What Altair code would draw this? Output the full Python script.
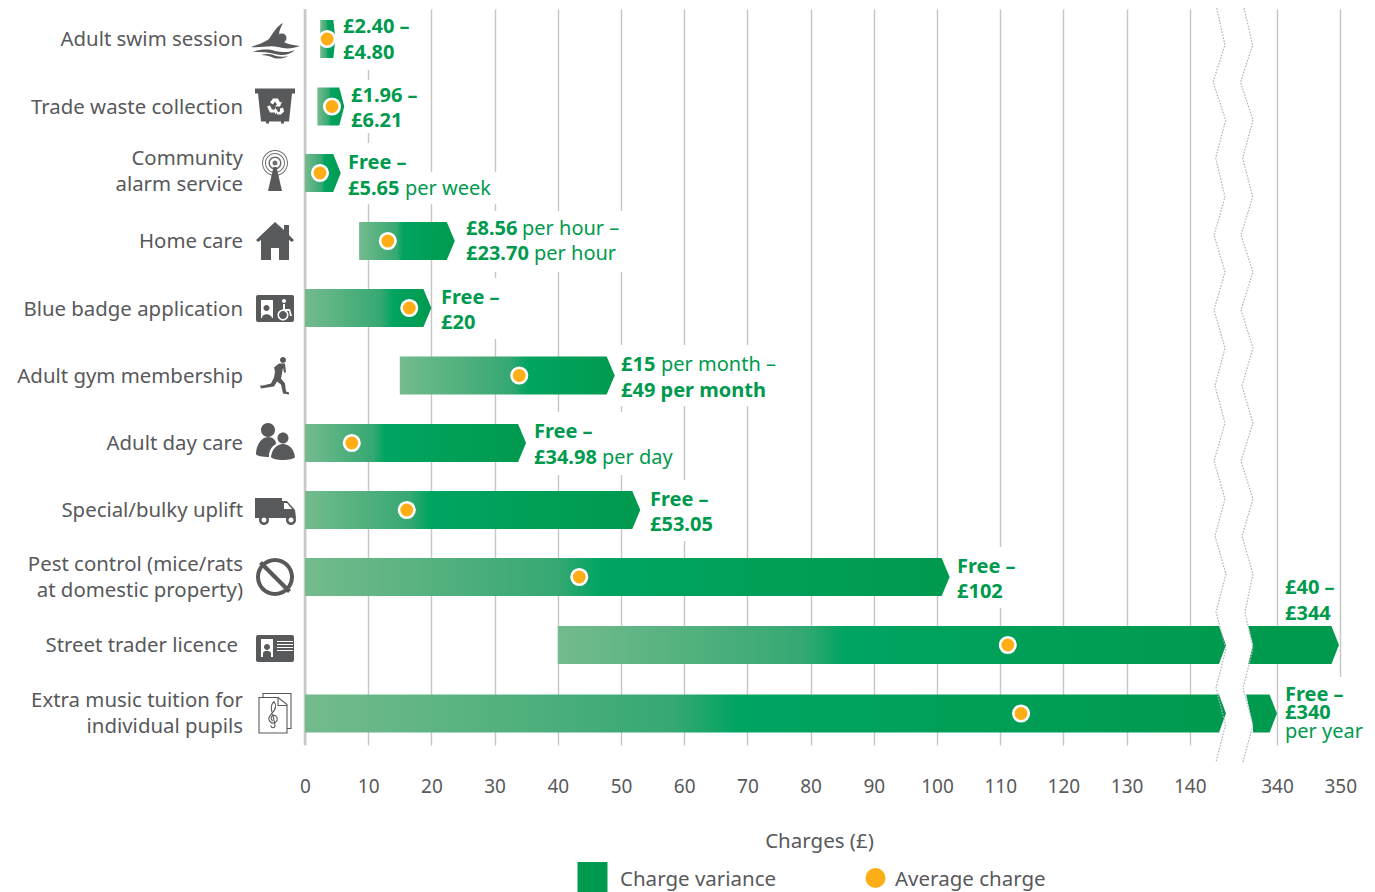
import altair as alt
import pandas as pd

# ---------- data ----------
SERVICES = ["Adult swim session", "Trade waste collection", "Community\nalarm service", "Home care",
            "Blue badge application", "Adult gym membership", "Adult day care", "Special/bulky uplift",
            "Pest control (mice/rats\nat domestic property)", "Street trader licence",
            "Extra music tuition for\nindividual pupils"]
LOW = [2.40, 1.96, 0, 8.56, 0, 15, 0, 0, 0, 40, 0]
HIGH = [4.80, 6.21, 5.65, 23.70, 20, 49, 34.98, 53.05, 102, 349.8, 340]
AVERAGE = [3.5, 4.27, 2.37, 13.1, 16.5, 33.9, 7.4, 16.1, 43.4, 111.2, 113.3]
TICKS = [0, 10, 20, 30, 40, 50, 60, 70, 80, 90, 100, 110, 120, 130, 140, 340, 350]

# value labels: (row, label start, parts)  part = (line centre, text, bold, px offset from label start)
VALUE_LABELS = [
    (0, 343, [(26, "£2.40 –", True, 0), (52, "£4.80", True, 0)]),
    (1, 351, [(95, "£1.96 –", True, 0), (120, "£6.21", True, 0)]),
    (2, 348, [(162, "Free –", True, 0), (188, "£5.65", True, 0), (188, "per week", False, 57)]),
    (3, 466, [(228, "£8.56", True, 0), (228, "per hour –", False, 56), (253, "£23.70", True, 0), (253, "per hour", False, 68)]),
    (4, 441, [(297, "Free –", True, 0), (322, "£20", True, 0)]),
    (5, 621, [(364, "£15", True, 0), (364, "per month –", False, 40), (390, "£49 per month", True, 0)]),
    (6, 534, [(431, "Free –", True, 0), (457, "£34.98", True, 0), (457, "per day", False, 68)]),
    (7, 650, [(499, "Free –", True, 0), (524, "£53.05", True, 0)]),
    (8, 957, [(566, "Free –", True, 0), (591, "£102", True, 0)]),
    (9, 1285, [(587, "£40 –", True, 0), (613, "£344", True, 0)]),
    (10, 1285, [(694, "Free –", True, 0), (712, "£340", True, 0), (731, "per year", False, 0)]),
]

# ---------- layout ----------
PX_UNIT = 6.32
X0, Y_TOP, Y_BOT = 305, 9, 745
ROW0, ROW_STEP = 39, 67.45
ROW_CENTRES = [39, 106.5, 173, 241, 308, 375.5, 443, 510, 577, 645, 713.5]
W, H = 1040, Y_BOT - Y_TOP
GREY = "#58595b"
GREEN = "#009a4e"
ORANGE = "#fdae17"
FONT = "Noto Sans"
FS = 20
FS_LABEL = 20.4
FS_LEGEND = 20.5
TXT_DY = 1


def fx(px):
    return (px - X0) / PX_UNIT


def fy(px):
    return (px - ROW0) / ROW_STEP


def pos(v):
    return v if v <= 150 else v - 186.2


XS = alt.Scale(domain=[0, W / PX_UNIT], nice=False, zero=False)
YS = alt.Scale(domain=[fy(Y_TOP), fy(Y_BOT)], nice=False, zero=False, reverse=True)
axis_vals = [pos(t) for t in TICKS]
AXIS = alt.Axis(values=axis_vals, domain=False, ticks=False, grid=True, gridColor="#c6c6c6",
                gridWidth=1.4, labelFont=FONT, labelFontSize=19, labelColor=GREY, labelPadding=32,
                labelExpr="datum.value > 150 ? format(datum.value + 186.2, 'd') : datum.label",
                labelOverlap=False, labelFlush=False, titleFont=FONT, titleFontSize=20.5,
                titleFontWeight="normal", titleColor=GREY, titleX=514, titleY=96,
                titleBaseline="middle", titleAnchor="middle", titleAlign="center")


def X(field="x"):
    return alt.X(field, type="quantitative", scale=XS, axis=AXIS, title="Charges (£)")


def Y(field="y"):
    return alt.Y(field, type="quantitative", scale=YS, axis=None)


layers = []

layers.append(
    alt.Chart(pd.DataFrame({"x": [0], "y": [fy(Y_TOP)], "y2": [fy(Y_BOT)]})).mark_rule(
        color="#c8c8c8", strokeWidth=2.6).encode(x=X(), y=Y(), y2="y2")
)

# white boxes behind the value labels
BOXES = [(338, 415, 8, 70), (347, 422, 80, 133), (345, 412, 143, 172), (345, 497, 172, 204), (458, 625, 211, 272),
         (433, 505, 278, 339), (615, 782, 345, 406), (527, 678, 412, 475), (643, 716, 480, 541), (950, 1020, 547, 608),
         (1280, 1365, 677, 746)]
layers.append(
    alt.Chart(pd.DataFrame([{"x": fx(a), "x2": fx(b), "y": fy(c), "y2": fy(d)} for a, b, c, d in BOXES]))
    .mark_rect(color="white").encode(x=X(), x2="x2", y=Y(), y2="y2")
)

# arrows
GRAD_MID = [0.5, 0.5, 0.55, 0.46, 0.7, 0.6, 0.36, 0.37, 0.46, 0.43, 0.47]
SHOULDER = [2, 5, 7.5, 8, 8, 8, 8, 8, 8, 7.5, 7.5]
HALF = 0.2817


def gradient(mid):
    return alt.Gradient(gradient="linear", x1=0, x2=1, y1=0, y2=0, stops=[
        alt.GradientStop(color="#74bb8d", offset=0),
        alt.GradientStop(color="#36a873", offset=mid * 0.85),
        alt.GradientStop(color="#00a461", offset=mid),
        alt.GradientStop(color=GREEN, offset=1),
    ])


def arrow(start, tip, shoulder_px, row, fill):
    sh = tip - shoulder_px / PX_UNIT
    d = pd.DataFrame({"x": [start, sh, tip], "y": [row - HALF, row - HALF, row], "y2": [row + HALF, row + HALF, row]})
    return alt.Chart(d).mark_area(color=fill, orient="vertical", line=False, opacity=1).encode(x=X(), y=Y(), y2="y2")


BREAK_TIP = fx(1226)
for i in range(11):
    lo, hi = pos(LOW[i]), pos(HIGH[i])
    rc = fy(ROW_CENTRES[i])
    if HIGH[i] > 150:
        layers.append(arrow(lo, BREAK_TIP, 7, rc, gradient(GRAD_MID[i])))
        layers.append(arrow(fx(1246 if i == 10 else 1248), hi, SHOULDER[i], rc, GREEN))
    else:
        layers.append(arrow(lo, hi, SHOULDER[i], rc, gradient(GRAD_MID[i])))

# notches at the start of the right-hand pieces
for xs, tops, bots in [([1247, 1248, 1253], [625, 625, 645], [665, 665, 645]),
                       ([1245, 1246, 1253], [694, 694, 726], [733.5, 733.5, 733.5])]:
    d = pd.DataFrame({"x": [fx(v) for v in xs], "y": [fy(v) for v in tops], "y2": [fy(v) for v in bots]})
    layers.append(alt.Chart(d).mark_area(color="white", orient="vertical", opacity=1).encode(x=X(), y=Y(), y2="y2"))

# axis-break waves
WAVE_Y = [8, 45, 82, 120, 158, 197, 235, 272, 310, 348, 386, 423, 461, 499, 536, 574, 612, 649, 688, 725, 762]
WAVE_L = [1216.7, 1225, 1213, 1225.7, 1215.7, 1225, 1214, 1225, 1214, 1225, 1215, 1225, 1214, 1225, 1215, 1226, 1216,
          1226, 1216, 1225.5, 1216]
WAVE_R = [1244, 1252.7, 1240.5, 1253, 1242.7, 1252.7, 1241, 1253, 1241, 1253, 1242, 1253, 1241, 1253, 1242, 1253, 1245,
          1253, 1243, 1253, 1243]
for wave in (WAVE_L, WAVE_R):
    d = pd.DataFrame({"x": [fx(v) for v in wave], "y": [fy(v) for v in WAVE_Y], "o": range(len(wave))})
    layers.append(alt.Chart(d).mark_line(color="#b4b4b4", strokeWidth=1.2, strokeDash=[1.6, 1.4]).encode(
        x=X(), y=Y(), order="o:Q"))

# average-charge dots
layers.append(
    alt.Chart(pd.DataFrame({"x": AVERAGE, "y": [fy(v) for v in ROW_CENTRES]})).mark_point(
        filled=True, fill=ORANGE, stroke="white", strokeWidth=2.6, size=240, opacity=1, shape="circle").encode(x=X(), y=Y())
)

# service labels (y is the centre of the first line)
LABEL_POS = [(243, 39), (243, 107), (243, 158), (243, 241), (243, 309), (243, 376), (243, 443), (243, 510), (243, 564),
             (238, 645), (243, 700)]
layers.append(
    alt.Chart(pd.DataFrame({"t": SERVICES, "x": [fx(p[0]) for p in LABEL_POS], "y": [fy(p[1] + TXT_DY) for p in LABEL_POS]}))
    .mark_text(font=FONT, fontSize=FS_LABEL, color=GREY, align="right", baseline="middle", lineBreak="\n", lineHeight=25.5)
    .encode(x=X(), y=Y(), text="t:N")
)

# value labels
rows = []
for _, x_start, parts in VALUE_LABELS:
    for yp, text, bold, off in parts:
        rows.append({"x": fx(x_start + off), "y": fy(yp + TXT_DY), "t": text, "bold": bold})
vals = pd.DataFrame(rows)
for flag, weight in ((True, "bold"), (False, "normal")):
    layers.append(
        alt.Chart(vals[vals.bold == flag]).mark_text(font=FONT, fontSize=FS, color=GREEN, align="left",
                                                     baseline="middle", fontWeight=weight)
        .encode(x=X(), y=Y(), text="t:N")
    )


# ---------- icons: paths in px around each icon's centre ----------
def circ(x, y, r, sweep=1):
    return f"M{x - r},{y} a{r},{r} 0 1,{sweep} {2 * r},0 a{r},{r} 0 1,{sweep} {-2 * r},0 Z "


def ring(x, y, r1, r2):
    return circ(x, y, r1, 1) + circ(x, y, r2, 0)


ICONS = [
    (0, 39, [("M-24,8 C-15,5 -10,3 -6,0 C-2,-6 2,-13 8,-16 C5,-10 3,-6 5,-3 L9,3 C14,6 20,6 25,7 C17,10 10,10 3,8 C-5,6 -15,9 -24,8 Z "
              "M-22,13 C-14,10 -6,10 0,12 C8,14 16,13 20,11 C15,16 7,17 0,15 C-6,13 -14,13 -22,13 Z "
              "M-14,16 C-8,14 -3,15 1,17 C6,18 10,18 13,17 C8,20 3,20 -1,19 C-5,17 -10,16 -14,16 Z " + circ(7, -1, 4.5), GREY)]),
    (1, 106.5, [("M-20,-18 L20,-18 L20,-13 L17,-13 L14,15 L9,15 L9,17 L6,17 L6,15 L-6,15 L-6,17 L-9,17 L-9,15 L-14,15 L-17,-13 L-20,-13 Z", GREY),
                ("M-2,-8 L3,-8 L5,-4 L7,-5 L5,0 L0,0 L2,-2 L0,-5 L-2,-2 L-5,-4 Z M-8,0 L-5,-1 L-3,3 L0,3 L0,1 L3,5 L0,8 L0,6 L-5,6 Z "
                 "M8,1 L9,5 L6,8 L2,8 L2,6 L5,5 L5,2 Z", "white")]),
    (2, 173, [(ring(0, -10, 13, 12) + ring(0, -10, 10, 9) + ring(0, -10, 6.5, 5) + circ(0, -10, 2.5), "#6d6e70"),
              ("M-1.5,-6 L1.5,-6 L7,18 L-7,18 Z", GREY)]),
    (3, 241, [("M0,-19 L9,-11 L9,-16 L14,-16 L14,-6 L19,-1 L17,1 L14,-1 L14,19 L4,19 L4,7 L-4,7 L-4,19 L-14,19 L-14,-1 L-17,1 L-19,-1 Z", GREY)]),
    (4, 308, [("M-17,-13 L17,-13 Q19,-13 19,-11 L19,12 Q19,14 17,14 L-17,14 Q-19,14 -19,12 L-19,-11 Q-19,-13 -17,-13 Z", GREY),
              ("M-14,-8 L-2,-8 L-2,10 L-14,10 Z", "white"),
              (circ(-8.5, 0, 3) + "M-13,10 C-13,5 -4,5 -3,10 Z", GREY),
              (circ(9, -7, 2) + "M8,-4 L10,-4 L10,1 L15,1 L17,8 L15,8 L14,3 L8,3 Z " + ring(8, 7, 5.5, 4), "white")]),
    (5, 375.5, [(circ(8, -15.5, 3) + "M4,-12 L10,-12 L11,-3 L9,-3 L8,-8 L7,-2 L6,3 L10,8 L11,16 L14,17 L14,19 L8,18 L6,9 L2,6 "
                 "L-1,11 L-8,12 L-14,13 L-15,10 L-12,10 L-8,9 L-4,8 L-1,2 L0,-4 L-1,-8 Z", GREY)]),
    (6, 443, [(circ(-7, -13, 7) + "M-7,-6 C-2,-6 1,-3 1,1 C-3,3 -6,8 -6,12 L-6,14 C-12,14 -19,13 -19,11 C-19,3 -14,-6 -7,-6 Z "
               + circ(8, -5, 5.5) + "M8,1 C14,1 19,6 20,14 C18,18 -2,18 -4,14 C-3,6 2,1 8,1 Z", GREY)]),
    (7, 510, [("M-20,-12 L7,-12 L7,-9 L12,-9 L20,0 L21,8 L-20,8 Z " + circ(-11, 10, 5) + circ(16, 10, 5), GREY),
              ("M9,-7 L12,-7 L17,-1 L9,-1 Z " + circ(-11, 10, 2.5) + circ(16, 10, 2.5), "white")]),
    (8, 577, [(ring(0, 0, 19, 15) + "M-13,-16 L16,13 L13,16 L-16,-13 Z", GREY)]),
    (9, 648, [("M-17,-13 L17,-13 Q19,-13 19,-11 L19,12 Q19,14 17,14 L-17,14 Q-19,14 -19,12 L-19,-11 Q-19,-13 -17,-13 Z", GREY),
              ("M-14,-9 L-2,-9 L-2,9 L-14,9 Z M2,-7 L18,-7 L18,-6 L2,-6 Z M2,-4 L18,-4 L18,-3 L2,-3 Z M2,-1 L18,-1 L18,0 L2,0 Z M2,2 L18,2 L18,3 L2,3 Z", "white"),
              (circ(-8, -1, 3) + "M-12,9 L-12,5 C-11,2 -5,2 -4,5 L-4,9 Z", GREY)]),
]
for row, yc, parts in ICONS:
    for path, col in parts:
        layers.append(
            alt.Chart(pd.DataFrame({"x": [fx(275)], "y": [fy(yc)]})).mark_point(
                shape=path, filled=True, fill=col, size=4, opacity=1).encode(x=X(), y=Y())
        )
# music sheets are outlines
SHEETS = ["M-16,-16 L3,-16 L12,-9 L12,19.5 L-16,19.5 Z M3,-16 L3,-8 L12,-8",
          "M-12,-16 L-12,-20 L7,-20 L16,-20 L16,15 L12,15",
          "M-1,-12 C-5,-8 -4,-4 -2,2 L0,12 C0,15 -4,15 -4,12 M-1,-12 C2,-8 0,-3 -4,1 C-9,6 -4,11 0,9 C4,7 2,1 -2,2 C-5,3 -4,7 -2,7"]
for path in SHEETS:
    layers.append(
        alt.Chart(pd.DataFrame({"x": [fx(275)], "y": [fy(713.5)]})).mark_point(
            shape=path, filled=False, stroke=GREY, strokeWidth=1.1, size=4, opacity=1).encode(x=X(), y=Y())
    )

# legend
layers.append(alt.Chart(pd.DataFrame({"x": [fx(592.5)], "y": [fy(877)]})).mark_point(
    shape="square", filled=True, fill=GREEN, size=900, opacity=1).encode(x=X(), y=Y()))
layers.append(alt.Chart(pd.DataFrame({"x": [fx(875.5)], "y": [fy(878)]})).mark_point(
    shape="circle", filled=True, fill=ORANGE, size=400, opacity=1).encode(x=X(), y=Y()))
layers.append(alt.Chart(pd.DataFrame({"x": [fx(620), fx(895)], "y": [fy(880), fy(880)], "t": ["Charge variance", "Average charge"]}))
              .mark_text(font=FONT, fontSize=FS_LEGEND, color=GREY, align="left", baseline="middle").encode(x=X(), y=Y(), text="t:N"))

chart = alt.layer(*layers).properties(
    width=W, height=H,
    autosize=alt.AutoSizeParams(type="none"),
    padding={"left": X0 - 8, "top": Y_TOP - 8, "right": 1367 - X0 - W, "bottom": 892 - 8 - H - (Y_TOP - 8)},
).configure_view(stroke=None)

chart.save("out.html", embed_options={"renderer": "svg", "actions": False})
